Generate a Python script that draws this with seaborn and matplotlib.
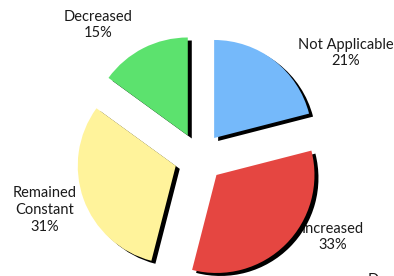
import matplotlib
matplotlib.use("Agg")
import matplotlib.pyplot as plt
import seaborn as sns

sns.set_style("white")
plt.rcParams['font.family'] = ['Lato', 'DejaVu Sans']

# data
labels = ['Not Applicable', 'Increased', 'Remained Constant', 'Decreased']
shares = [21, 33, 31, 15]
colors = ['#75B9FA', '#E54641', '#FFF39B', '#5CE26E']

# label placement (pixel coords of the canvas, y down)
label_text = ['Not Applicable\n21%', 'Increased\n33%', 'Remained\nConstant\n31%', 'Decreased\n15%']
label_xy = [(346, 53), (333, 237), (45, 210), (98, 25)]

W, H = 394, 276
fig = plt.figure(figsize=(W / 100, H / 100), dpi=100)
ax = fig.add_axes([0, 0, 1, 1])

cx, cy, r = 199, H - 157.5, 98
explode = [24.7] * len(shares)  # pie offsets are in data units

# shadow pie (black, shifted right/down)
ax.pie(shares, colors=['black'] * 4, explode=explode, startangle=90,
       counterclock=False, radius=r, center=(cx + 4, cy - 3),
       wedgeprops=dict(linewidth=0, zorder=2))
ax.pie(shares, colors=colors, explode=explode, startangle=90,
       counterclock=False, radius=r, center=(cx, cy),
       wedgeprops=dict(linewidth=0, zorder=3))

for txt, (x, y) in zip(label_text, label_xy):
    ax.text(x, H - y, txt, ha='center', va='center', fontsize=10.5,
            linespacing=1.25, color='#1a1a1a', zorder=1)

# cut-off text at bottom right
ax.text(368, H - 280, 'Decreased', ha='left', va='center', fontsize=10.5,
        color='#1a1a1a', zorder=1)

ax.set_xlim(0, W)
ax.set_ylim(0, H)
ax.set_aspect('auto')
ax.axis('off')

fig.savefig('out.png', dpi=100)
